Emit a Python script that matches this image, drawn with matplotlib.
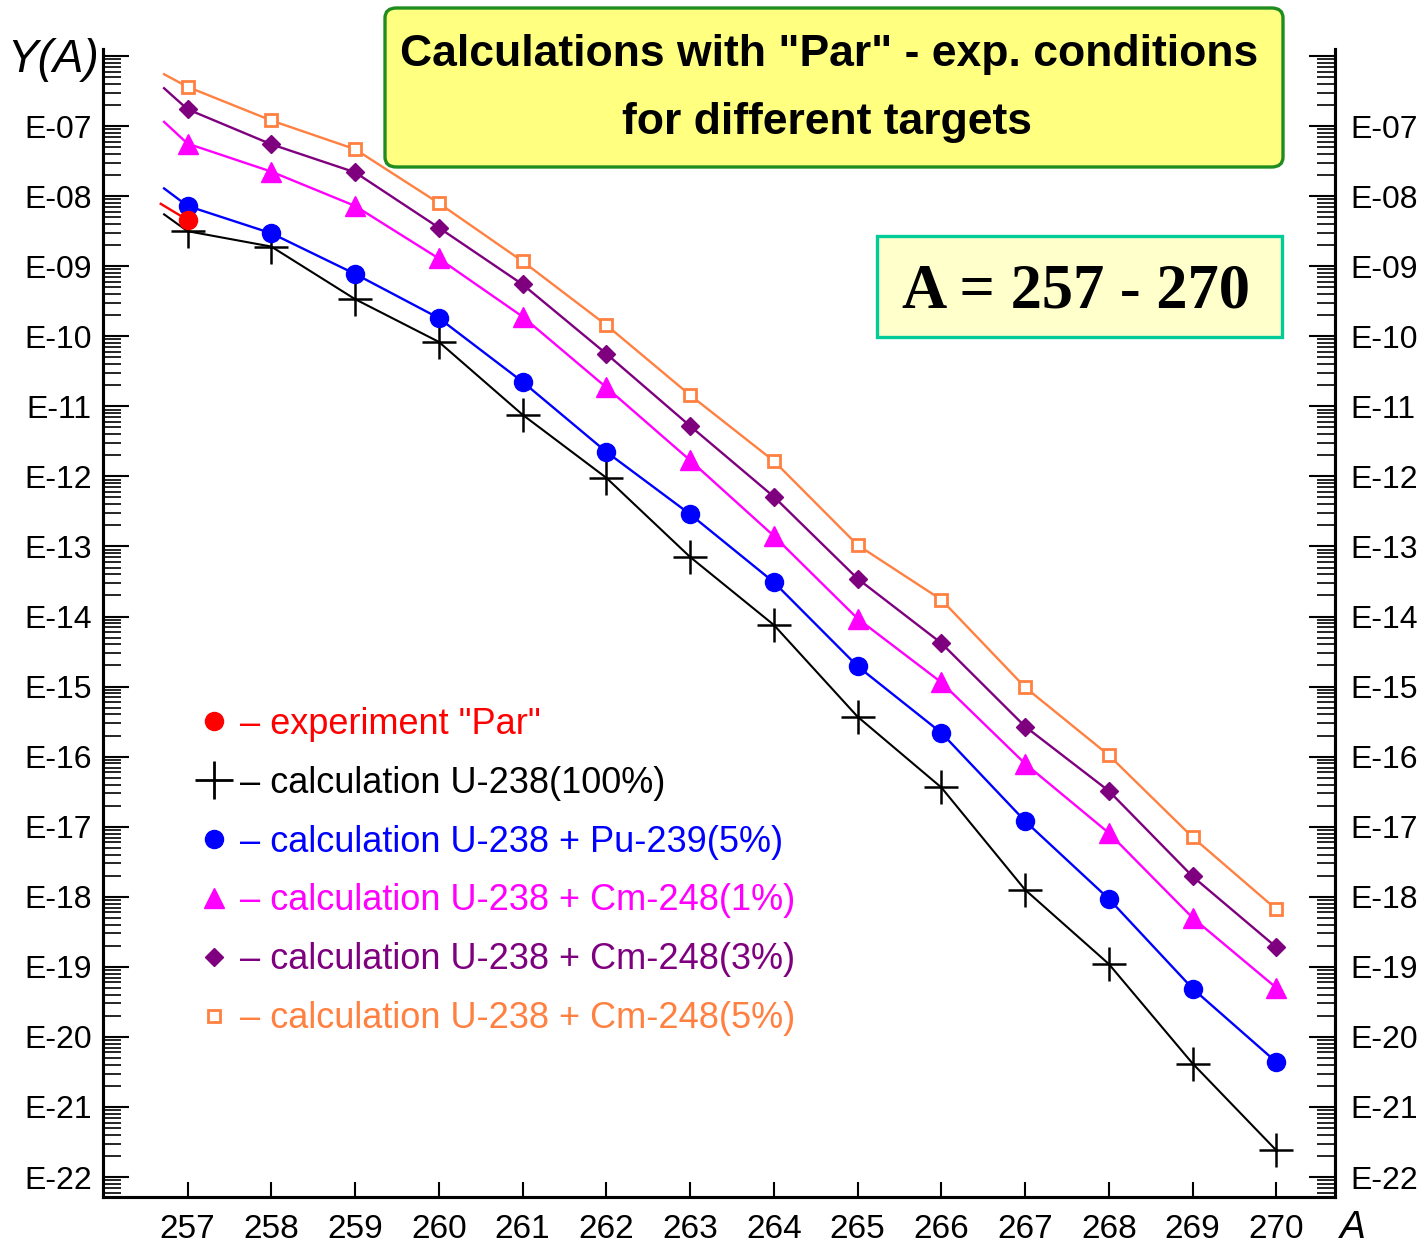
import numpy as np
import matplotlib
matplotlib.use("Agg")
import matplotlib.pyplot as plt
from matplotlib.lines import Line2D
from matplotlib.patches import FancyBboxPatch
from matplotlib.ticker import LogLocator, FuncFormatter, NullFormatter, NullLocator

plt.rcParams['font.family'] = ['Liberation Sans', 'DejaVu Sans']

# mass number A; the first value is where the calculated curves start (no marker)
A = [256.72, 257, 258, 259, 260, 261, 262, 263, 264, 265, 266, 267, 268, 269, 270]
A_exp = [256.68, 257]

# log10 of the yield Y(A)
log_u238 = [-8.26, -8.50, -8.72, -9.47, -10.08, -11.12, -12.02, -13.15, -14.12,
            -15.43, -16.44, -17.90, -18.96, -20.38, -21.62]
log_pu5 = [-7.89, -8.14, -8.53, -9.11, -9.74, -10.65, -11.65, -12.54, -13.51,
           -14.71, -15.66, -16.92, -18.03, -19.31, -20.36]
log_cm1 = [-6.94, -7.25, -7.65, -8.14, -8.89, -9.72, -10.73, -11.77, -12.85,
           -14.03, -14.94, -16.10, -17.09, -18.30, -19.30]
log_cm3 = [-6.46, -6.76, -7.26, -7.66, -8.45, -9.26, -10.25, -11.28, -12.29,
           -13.46, -14.38, -15.57, -16.49, -17.71, -18.72]
log_cm5 = [-6.26, -6.44, -6.92, -7.33, -8.10, -8.93, -9.84, -10.84, -11.78,
           -12.98, -13.76, -15.01, -15.98, -17.15, -18.18]
log_exp = [-8.11, -8.34]

labels = ['– experiment "Par"',
          '– calculation U-238(100%)',
          '– calculation U-238 + Pu-239(5%)',
          '– calculation U-238 + Cm-248(1%)',
          '– calculation U-238 + Cm-248(3%)',
          '– calculation U-238 + Cm-248(5%)']

RED, BLACK, BLUE, MAGENTA, PURPLE, ORANGE = '#FF0000', '#000000', '#0000FF', '#FF00FF', '#7F007F', '#FF8040'

fig = plt.figure(figsize=(14.24, 12.47), dpi=100)
ax = fig.add_axes([0.0723, 0.0401, 0.8652, 0.9206])

def yv(logs):
    return 10.0 ** np.array(logs)

mk = slice(1, None)
ax.plot(A, yv(log_u238), color=BLACK, lw=1.5, marker='+', ms=25, mew=1.8, markevery=mk, zorder=3)
ax.plot(A, yv(log_pu5), color=BLUE, lw=1.7, marker='o', ms=13, markevery=mk, zorder=3)
ax.plot(A, yv(log_cm1), color=MAGENTA, lw=1.7, marker='^', ms=15, markevery=mk, zorder=3)
ax.plot(A, yv(log_cm3), color=PURPLE, lw=1.7, marker='D', ms=9, markevery=mk, zorder=3)
ax.plot(A, yv(log_cm5), color=ORANGE, lw=1.7, marker='s', ms=9, mfc='white', mew=2,
        markevery=mk, zorder=3)
ax.plot(A_exp, yv(log_exp), color=RED, lw=1.7, marker='o', ms=13, markevery=[1], zorder=4)

ylo, yhi = 10 ** -22.285, 10 ** -5.90
ax.set_yscale('log')
ax.set_ylim(ylo, yhi)
ax.set_xlim(255.99, 270.70)
ax.set_xticks(range(257, 271))
ax.xaxis.set_minor_locator(NullLocator())


def elabel(v, pos):
    e = int(round(np.log10(v)))
    return f"E-{-e:02d}" if e <= -7 else ""


ax2 = ax.twinx()
ax2.set_yscale('log')
ax2.set_ylim(ylo, yhi)

for a in (ax, ax2):
    a.yaxis.set_major_locator(LogLocator(base=10, numticks=40))
    a.yaxis.set_minor_locator(LogLocator(base=10, subs=np.arange(2, 10), numticks=40))
    a.yaxis.set_major_formatter(FuncFormatter(elabel))
    a.yaxis.set_minor_formatter(NullFormatter())
    a.spines['top'].set_visible(False)
    for s in ('left', 'right', 'bottom'):
        a.spines[s].set_linewidth(2.2)

ax.tick_params(axis='y', which='major', direction='in', length=19, width=1.5,
               labelsize=23, pad=8, left=True, right=False)
ax.tick_params(axis='y', which='minor', direction='in', length=13, width=1.2, left=True, right=False)
ax.tick_params(axis='x', which='major', direction='in', length=11, width=1.5,
               labelsize=24, pad=12, top=False)
ax2.tick_params(axis='y', which='major', direction='in', length=19, width=1.5,
                labelsize=23, pad=11, right=True, left=False)
ax2.tick_params(axis='y', which='minor', direction='in', length=13, width=1.2, right=True, left=False)

# axis titles
fig.text(53 / 1424, 1 - 72 / 1247, 'Y(A)', fontsize=33, style='italic', ha='center', va='baseline')
fig.text(1353 / 1424, 1 - 1238 / 1247, 'A', fontsize=28, style='italic', ha='center', va='baseline')

# legend
handles = [
    Line2D([], [], ls='None', marker='o', ms=13, color=RED),
    Line2D([], [], ls='None', marker='+', ms=27, mew=2, color=BLACK),
    Line2D([], [], ls='None', marker='o', ms=13, color=BLUE),
    Line2D([], [], ls='None', marker='^', ms=15, color=MAGENTA),
    Line2D([], [], ls='None', marker='D', ms=9, color=PURPLE),
    Line2D([], [], ls='None', marker='s', ms=9, mfc='white', mew=2, color=ORANGE),
]
ax.legend(handles, labels, loc='upper left', bbox_to_anchor=(196 / 1424, 1 - 707 / 1247),
          bbox_transform=fig.transFigure, frameon=False, fontsize=26, borderpad=0,
          borderaxespad=0, handlelength=1.0, handletextpad=0.22, labelspacing=0.66,
          labelcolor=[RED, BLACK, BLUE, MAGENTA, PURPLE, ORANGE])

# title box
tbox = FancyBboxPatch((385 / 1424, 1 - 167 / 1247), 898 / 1424, 159 / 1247,
                      boxstyle='round,pad=0,rounding_size=0.008', transform=fig.transFigure,
                      facecolor='#FFFF80', edgecolor='#1E8C1E', lw=2.4, zorder=5)
fig.patches.append(tbox)
fig.text(829 / 1424, 1 - 66 / 1247, 'Calculations with "Par" - exp. conditions',
         fontsize=32, fontweight='bold', ha='center', va='baseline', zorder=6)
fig.text(827 / 1424, 1 - 134 / 1247, 'for different targets',
         fontsize=32, fontweight='bold', ha='center', va='baseline', zorder=6)

# range box
abox = FancyBboxPatch((877 / 1424, 1 - 337 / 1247), 405 / 1424, 101 / 1247,
                      boxstyle='square,pad=0', transform=fig.transFigure,
                      facecolor='#FFFFCC', edgecolor='#00CC99', lw=2.4, zorder=5)
fig.patches.append(abox)
fig.text(1076 / 1424, 1 - 307 / 1247, 'A = 257 - 270', fontsize=45, fontweight='bold',
         family='Liberation Serif', ha='center', va='baseline', zorder=6)

fig.savefig('out.png', dpi=100)
